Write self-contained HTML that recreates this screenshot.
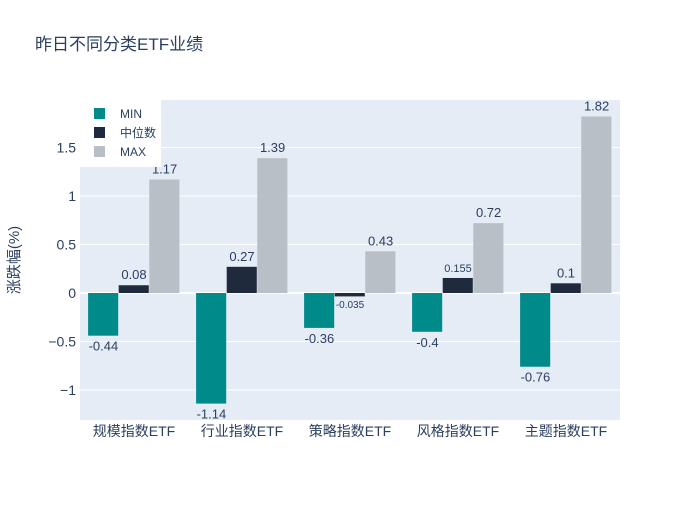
<!DOCTYPE html>
<html><head><meta charset="utf-8"><style>
body{margin:0;background:#fff}
svg text{font-family:"Liberation Sans","Noto Sans CJK SC",sans-serif;fill:#2a3f5f}
</style></head><body>
<svg id="c" width="700" height="500" xmlns="http://www.w3.org/2000/svg">
<text x="35" y="50" font-size="17">昨日不同分类ETF业绩</text>
<rect x="80" y="100" width="540" height="320" fill="#e5ecf6"/>
<g id="grid"></g><g id="bars"></g><g id="axes"></g>
<text transform="translate(19,260) rotate(-90)" text-anchor="middle" font-size="15">涨跌幅(%)</text>
<rect x="80" y="100" width="81" height="67" fill="#fff"/>
<g id="legend"></g>
</svg>
<script>
const categories=["规模指数ETF","行业指数ETF","策略指数ETF","风格指数ETF","主题指数ETF"];
const seriesNames=["MIN","中位数","MAX"];
const minVals=[-0.44,-1.14,-0.36,-0.4,-0.76];
const medVals=[0.08,0.27,-0.035,0.155,0.1];
const maxVals=[1.17,1.39,0.43,0.72,1.82];
const yTicks=[-1,-0.5,0,0.5,1,1.5];
const yTickLabels=["−1","−0.5","0","0.5","1","1.5"];
const colors=["#008b8a","#1f2a3c","#b8bfc6"];
const NS="http://www.w3.org/2000/svg";
const y=v=>293-v*97;
const bandW=108, x0=80;
function mk(tag,attrs,parent,txt){const e=document.createElementNS(NS,tag);for(const k in attrs)e.setAttribute(k,attrs[k]);if(txt!==undefined)e.textContent=txt;document.getElementById(parent).appendChild(e);return e;}
yTicks.forEach((t,i)=>{
  const g=mk('line',{x1:80,x2:620,y1:y(t),y2:y(t),stroke:'#fff','stroke-width':t===0?2:1},'grid');
  
  
  const l=mk('text',{x:76,y:y(t)+5,'text-anchor':'end','font-size':14},'axes',yTickLabels[i]);
  
  
});
const all=[minVals,medVals,maxVals];
const bw=30.6;
categories.forEach((c,i)=>{
  const cx=x0+bandW*(i+0.5);
  const l=mk('text',{x:cx,y:436,'text-anchor':'middle','font-size':14},'axes',c);
  
  
  all.forEach((s,j)=>{
    const v=s[i];const bx=cx-1.5*bw+j*bw;
    const top=Math.min(y(0),y(v)),h=Math.abs(y(v)-y(0));
    const r=mk('rect',{x:bx,y:top,width:bw-0.5,height:Math.max(h,1),fill:colors[j]},'bars');
    
    
    const small=Math.abs(v)<0.05;
    const ty=v>=0?y(v)-6:y(v)+15;
    const t=mk('text',{x:bx+bw/2,y:ty,'text-anchor':'middle','font-size':small?10:(j===1&&v===0.155?11:13)},'bars',String(v));
    if(small&&v<0){t.setAttribute('y',y(0)+15);}
    
    
  });
});
seriesNames.forEach((n,i)=>{
  const yy=108+i*19;
  const r=mk('rect',{x:94,y:yy,width:11,height:11,fill:colors[i]},'legend');
  
  
  const t=mk('text',{x:120,y:yy+10,'font-size':12},'legend',n);
  
  
});
</script>
</body></html>
